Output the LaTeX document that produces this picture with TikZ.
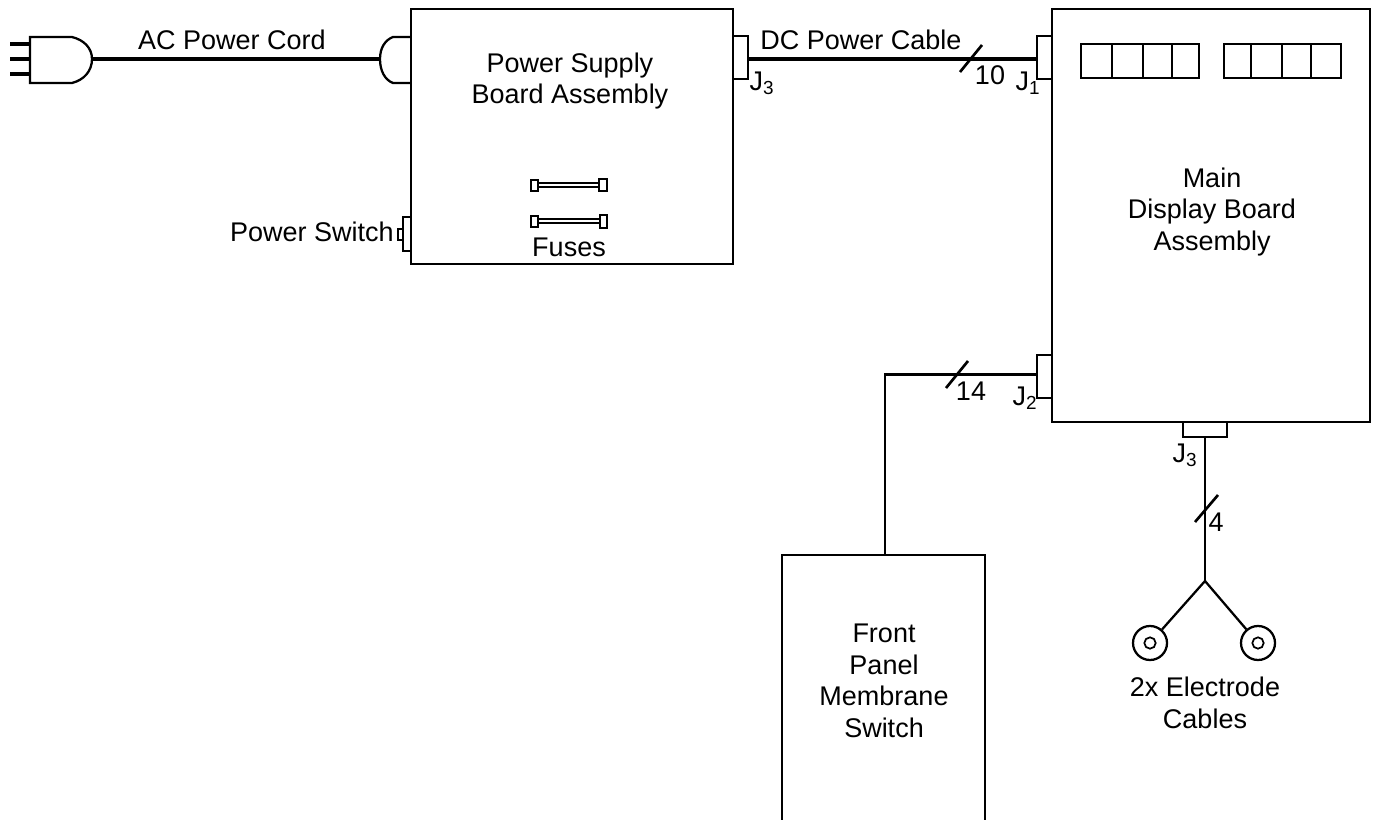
\documentclass[tikz,border=0pt]{standalone}
\usepackage{fontspec}
\setmainfont{Liberation Sans}
\usepackage{tikz}
\usetikzlibrary{positioning, calc}
\definecolor{ink}{HTML}{000000}
\tikzset{
  board/.style  ={draw=ink, line width=1.7pt, anchor=north west, inner sep=0pt, outer sep=0pt},
  conn/.style   ={draw=ink, fill=white, line width=1.5pt, anchor=north west, inner sep=0pt, outer sep=0pt},
  cable/.style  ={draw=ink, line width=2.7pt},
  wire/.style   ={draw=ink, line width=1.7pt},
  tick/.style   ={draw=ink, line width=2pt},
  fusebar/.style={draw=ink, line width=1.2pt},
  elec/.style   ={draw=ink, line width=1.7pt, circle, minimum size=25.5pt, inner sep=0pt},
  pin/.style    ={draw=ink, line width=1.3pt, circle, minimum size=8.5pt, inner sep=0pt},
  label/.style  ={font=\fontsize{20.25}{23.6}\selectfont, text=ink, align=center, inner sep=0pt},
  sizedbox/.style 2 args={minimum width=#1*0.75pt, minimum height=#2*0.75pt}
}

\begin{document}
\begin{tikzpicture}[x=0.75pt, y=-0.75pt]
  \clip (0,0) rectangle (1377,820);
  \fill[white] (0,0) rectangle (1377,820);

  % boards
  \node[board, sizedbox={322}{255}] (psu)   at (411,9)   {};
  \node[board, sizedbox={318}{413}] (main)  at (1052,9)  {};
  \node[board, sizedbox={203}{275}] (panel) at (782,555) {};

  % connectors
  \node[conn, sizedbox={15}{43}] (psuj)   at (733,36)   {};
  \node[conn, sizedbox={15}{43}] (mainja) at (1037,36)  {};
  \node[conn, sizedbox={15}{43}] (mainjb) at (1037,355) {};
  \node[conn, sizedbox={44}{15}] (mainjc) at (1183,422) {};
  \node[conn, sizedbox={8}{34}]  (swbody) at (403,217)  {};
  \node[conn, sizedbox={5}{11}]  (swkey)  at (398,229)  {};

  % display digits
  \node[conn, sizedbox={118}{34}] (dispa) at (1081,44) {};
  \node[conn, sizedbox={117}{34}] (dispb) at (1224,44) {};
  \foreach \x in {1112,1143,1172} \draw[wire] (\x,44) -- (\x,78);
  \foreach \x in {1251,1282,1311} \draw[wire] (\x,44) -- (\x,78);

  % plug and socket
  \coordinate (plugtip) at (92,59);
  \coordinate (socktip) at (380,59);
  \draw[wire] (72,37) -- (30,37) -- (30,83) -- (72,83)
    .. controls (84,80) and (92,71) .. (plugtip)
    .. controls (92,48) and (84,40) .. (72,37);
  \foreach \y in {44,59,74} \draw[cable] (10,\y) -- (30,\y);
  \draw[wire] (psu.west |- 0,37) -- (393,37)
    .. controls (385,40) and (380,48) .. (socktip)
    .. controls (380,71) and (385,80) .. (393,83) -- (psu.west |- 0,83);
  \draw[cable] (plugtip) -- (socktip);

  % fuses
  \node[conn, sizedbox={7}{11}]  (fusea) at (531,180) {};
  \node[conn, sizedbox={8}{12}]  (fuseb) at (599,179) {};
  \node[conn, sizedbox={7}{11}]  (fusec) at (531,216) {};
  \node[conn, sizedbox={7}{13}]  (fused) at (600,215) {};
  \foreach \y in {183,187} \draw[fusebar] (fusea.east |- 0,\y) -- (fuseb.west |- 0,\y);
  \foreach \y in {219,223} \draw[fusebar] (fusec.east |- 0,\y) -- (fused.west |- 0,\y);

  % cables
  \draw[cable] (psuj.east |- 0,59) -- (mainja.west |- 0,59);
  \draw[tick] (960,72) -- (982,45);
  \draw[wire] (mainjb.west |- 0,374.5) -- (885,374.5) -- (885,555);
  \draw[tick] (946,388) -- (968,361);
  \draw[wire] (mainjc.south) -- (1205,581) coordinate (fork);
  \draw[tick] (1195,522) -- (1218,495);

  % electrodes
  \node[elec] (elecl) at (1150,643) {};
  \node[elec] (elecr) at (1258,643) {};
  \node[pin]  (pinl)  at (elecl) {};
  \node[pin]  (pinr)  at (elecr) {};
  \draw[wire] (fork) -- (elecl);
  \draw[wire] (fork) -- (elecr);

  % labels
  \node[label] (accord)  at (232,40)  {AC Power Cord};
  \node[label] (dccable) at (861,40)  {DC Power Cable};
  \node[label] (psutxt)  at (570,81)  {Power Supply\\Board Assembly};
  \node[label] (fusetxt) at (569,247) {Fuses};
  \node[label, anchor=east] (swtxt) at (394,232) {Power Switch};
  \node[label] (maintxt) at (1212,212) {Main\\Display Board\\Assembly};
  \node[label] (paneltxt) at (884,681) {Front\\Panel\\Membrane\\Switch};
  \node[label] (electxt) at (1205,703) {2x Electrode\\Cables};
  \node[label] (tenwires) at (990,75)  {10};
  \node[label] (fourteenwires) at (971,391) {14};
  \node[label] (fourwires) at (1216,522) {4};
  \node[label] (psujtxt) at (762,83)  {J\textsubscript{3}};
  \node[label] (jatxt) at (1028,83) {J\textsubscript{1}};
  \node[label] (jbtxt) at (1025,398) {J\textsubscript{2}};
  \node[label] (jctxt) at (1185,455) {J\textsubscript{3}};
\end{tikzpicture}
\end{document}
